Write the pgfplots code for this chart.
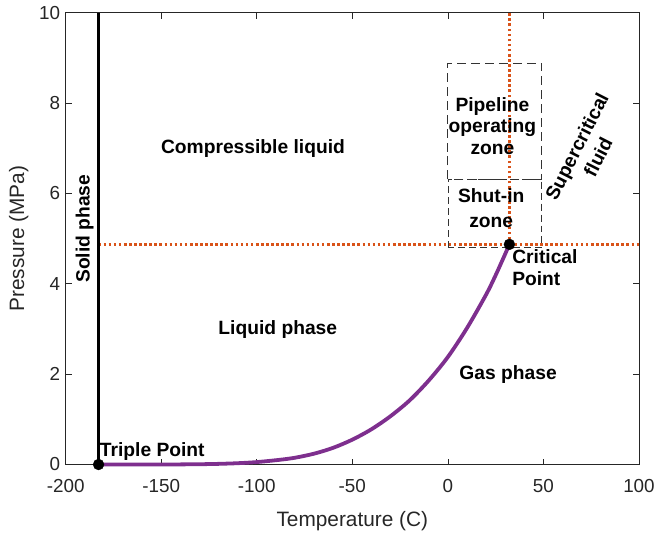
\documentclass[border=0pt]{standalone}
\usepackage{pgfplots}
\pgfplotsset{compat=1.18}
\usepackage{fontspec}
\setmainfont{Liberation Sans}

\definecolor{axgray}{RGB}{38,38,38}
\definecolor{vpcurve}{RGB}{126,47,142}
\definecolor{critline}{RGB}{217,83,25}

% Ethane saturation (vapour pressure) curve: temperature in C, pressure in MPa
\pgfplotstableread{
T       P
-182.8  0.0000
-170    0.00004
-160    0.00024
-150    0.0009
-140    0.0025
-130    0.0062
-120    0.0142
-110    0.0288
-100    0.0537
-88.6   0.1013
-80     0.150
-70     0.240
-60     0.370
-50     0.550
-40     0.780
-30     1.070
-20     1.420
-10     1.860
0       2.380
10      3.020
20      3.760
25      4.190
30      4.660
32.2    4.872
}\vpdata

\begin{document}
\begin{tikzpicture}
\begin{axis}[
  scale only axis,
  width=576bp, height=454bp,
  xmin=-200, xmax=100, ymin=0, ymax=10,
  xtick={-200,-150,...,100},
  ytick={0,2,...,10},
  tick align=inside,
  xtick pos=both, ytick pos=both,
  major tick length=6bp,
  axis line style={axgray, line width=0.7pt},
  every tick/.style={axgray, line width=0.7pt},
  tick label style={font=\fontsize{19}{22}\selectfont, text=axgray},
  xticklabel style={yshift=-11bp},
  yticklabel style={xshift=-2bp},
  /pgf/number format/assume math mode=true,
  xlabel={Temperature (C)},
  ylabel={Pressure (MPa)},
  label style={font=\fontsize{21}{24}\selectfont, text=axgray},
  xlabel style={yshift=-12bp},
  ylabel style={yshift=4bp},
  clip=false,
]
% critical-point guide lines
\addplot[critline, line width=2.6bp, dash pattern=on 2.6bp off 2.5bp] coordinates {(-182.8,4.872) (100,4.872)};
\addplot[critline, line width=2.6bp, dash pattern=on 2.6bp off 2.5bp] coordinates {(32.2,4.872) (32.2,10)};
% operating envelopes
\addplot[black!80, line width=0.8pt, dash pattern=on 9bp off 5bp] coordinates {(0,6.31) (0,8.88) (49,8.88) (49,6.31) (0,6.31)};
\addplot[black!80, line width=0.7pt, dash pattern=on 7bp off 4bp] coordinates {(0,4.80) (0,6.31) (49,6.31) (49,4.80) (0,4.80)};
% solid/liquid boundary
\addplot[black, line width=2.8bp] coordinates {(-182.8,0) (-182.8,10)};
% vapour pressure curve
\addplot[vpcurve, line width=3.8bp, smooth] table[x=T, y=P] {\vpdata};
% triple and critical points
\addplot[only marks, mark=*, mark size=5.5pt, black] coordinates {(-182.8,0) (32.2,4.872)};

\node[font=\fontsize{19.4}{22}\selectfont\bfseries] at (axis cs:-102,7.0) {Compressible liquid};
\node[font=\fontsize{19.4}{22}\selectfont\bfseries] at (axis cs:-89,2.98) {Liquid phase};
\node[font=\fontsize{19.4}{22}\selectfont\bfseries] at (axis cs:31.5,2.0) {Gas phase};
\node[font=\fontsize{19.4}{22}\selectfont\bfseries, rotate=90] at (axis cs:-190.1,5.22) {Solid phase};
\node[font=\fontsize{19.4}{22}\selectfont\bfseries, anchor=base west, inner sep=0pt] at (axis cs:-182.2,0.17) {Triple Point};
\node[font=\fontsize{19.4}{22}\selectfont\bfseries, anchor=north west, align=left, inner sep=0pt] at (axis cs:33.6,4.76) {Critical\\Point};
\node[font=\fontsize{19.4}{22}\selectfont\bfseries, align=center] at (axis cs:23.3,7.49) {Pipeline\\operating\\zone};
\node[font=\fontsize{19.4}{25}\selectfont\bfseries, align=center] at (axis cs:22.7,5.67) {Shut-in\\zone};
\node[font=\fontsize{19.4}{24}\selectfont\bfseries, align=center, rotate=63] at (axis cs:73,6.92) {Supercritical\\fluid};
\end{axis}
\path ([xshift=-66bp,yshift=-70bp]current axis.south west) rectangle ([xshift=16bp,yshift=12.7bp]current axis.north east);
\end{tikzpicture}
\end{document}
